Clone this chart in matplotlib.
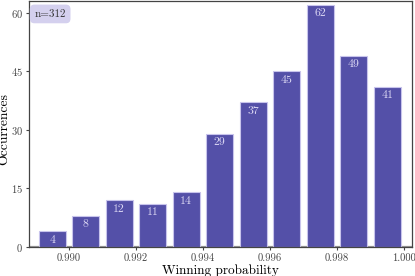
import matplotlib
matplotlib.use("Agg")
import matplotlib.pyplot as plt
import numpy as np

plt.rcParams['font.family'] = 'serif'
plt.rcParams['font.serif'] = ['cmr10', 'DejaVu Serif']
plt.rcParams['mathtext.fontset'] = 'cm'
plt.rcParams['axes.formatter.use_mathtext'] = True

bin_centers = [0.9895, 0.9905, 0.9915, 0.9925, 0.9935, 0.9945, 0.9955, 0.9965, 0.9975, 0.9985, 0.9995]
counts = [4, 8, 12, 11, 14, 29, 37, 45, 62, 49, 41]
n_total = 312
xticks = [0.990, 0.992, 0.994, 0.996, 0.998, 1.000]
yticks = [0, 15, 30, 45, 60]

fig = plt.figure(figsize=(4.15, 2.76), dpi=100)
ax = fig.add_axes([0.070, 0.105, 0.923, 0.893])

bars = ax.bar(bin_centers, counts, width=0.0008, color='#5450a8',
              edgecolor='#c8c4ec', linewidth=0.8, zorder=2)
for c, v in zip(bin_centers, counts):
    ax.text(c, v - 1.0, str(v), ha='center', va='top', color='#dcd8f4', fontsize=8.5, zorder=3)

ax.axhline(0, color='#999999', lw=1.6, zorder=1)
ax.set_xlim(0.98881, 1.00024)
ax.set_ylim(0, 63.1)
ax.set_xticks(xticks)
ax.set_xticklabels([f"{t:.3f}" for t in xticks])
ax.set_yticks(yticks)
ax.tick_params(axis='both', labelsize=7.6, colors='#444444', length=2.5, width=0.8, pad=2)
for s in ax.spines.values():
    s.set_color('#444444')
    s.set_linewidth(0.9)
ax.set_xlabel('Winning probability', fontsize=9.5, labelpad=1)
ax.set_ylabel('Occurrences', fontsize=9.8)
ax.yaxis.set_label_coords(-0.048, 0.48)
ax.text(0.014, 0.965, 'n=312', transform=ax.transAxes, ha='left', va='top', fontsize=8,
        color='#333333', bbox=dict(boxstyle='round,pad=0.35', fc='#d4d0ee', ec='#d4d0ee'))

fig.savefig('out.png', dpi=100)
